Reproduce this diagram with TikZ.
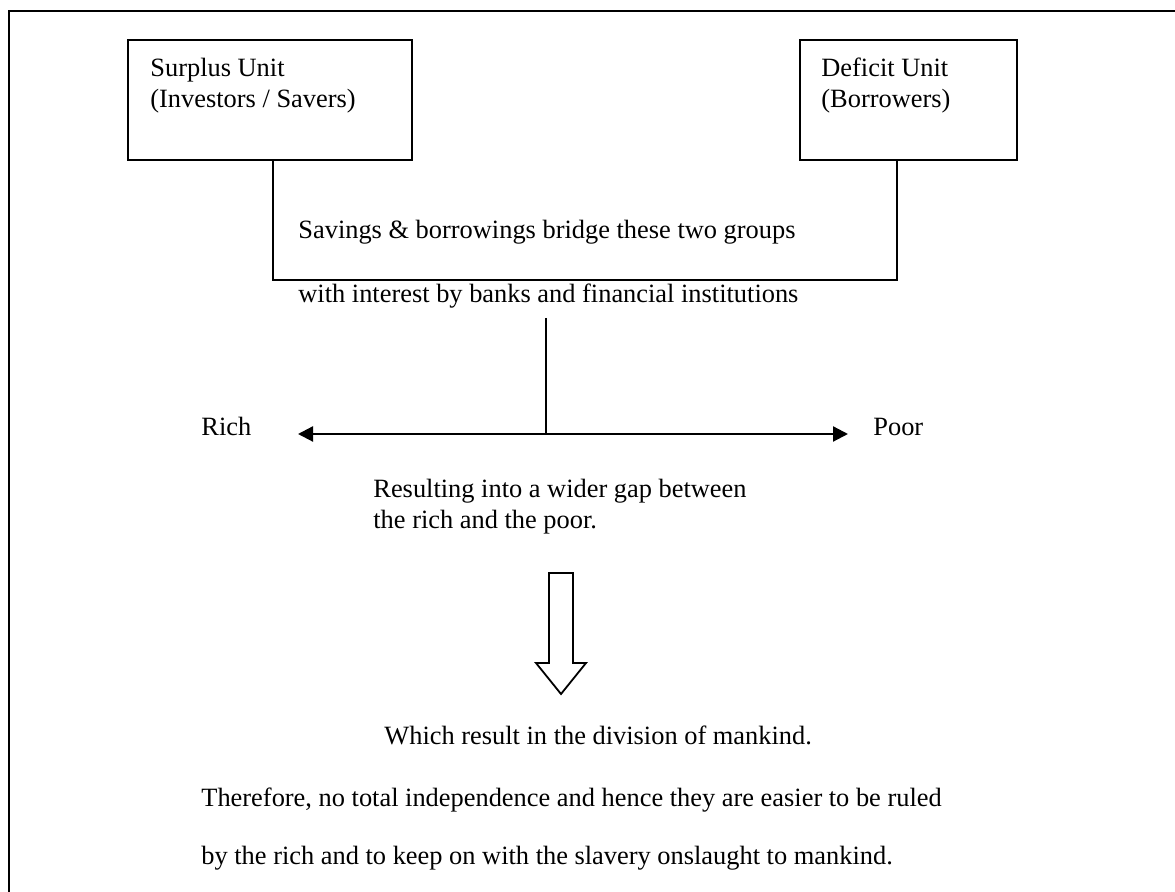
\documentclass[tikz,border=0pt]{standalone}
\usepackage{fontspec}
\setmainfont{Liberation Serif}
\usetikzlibrary{arrows.meta}
\tikzset{
  unitbox/.style={draw,line width=1pt,rectangle,inner sep=0pt},
  txt/.style={inner sep=0pt,font=\fontsize{13.2}{15.5}\selectfont},
  linetxt/.style={txt,anchor=base west},
  boxtxt/.style={txt,anchor=north west,align=left},
  bridgeline/.style={line width=1pt},
  gaparrow/.style={line width=1.1pt,{Triangle[length=7.5pt,width=7.5pt]}-{Triangle[length=7.5pt,width=7.5pt]}}
}
\begin{document}
\begin{tikzpicture}[x=0.5pt,y=-0.5pt]
\useasboundingbox (0,0) rectangle (1175,892);
% frame
\draw[line width=1.3pt] (9,892) -- (9,11) -- (1175,11);
% the two units
\node (surplus) [unitbox,minimum width=142pt,minimum height=60pt] at (270,100) {};
\node (deficit) [unitbox,minimum width=108.5pt,minimum height=60pt] at (908.5,100) {};
\node (surplustxt) [boxtxt] at (150,58) {Surplus Unit\\(Investors / Savers)};
\node (deficittxt) [boxtxt] at (821,58) {Deficit Unit\\(Borrowers)};
% bridge
\coordinate (bl) at (273,280);
\coordinate (br) at (897,280);
\draw[bridgeline] (bl |- surplus.south) -- (bl) -- (br) -- (br |- deficit.south);
\node (bridgetxt) [linetxt] at (298,239) {Savings \& borrowings bridge these two groups};
\node (interesttxt) [linetxt] at (298,303) {with interest by banks and financial institutions};
% rich / poor
\coordinate (stemtop) at (546,318);
\coordinate (stem) at (546,434);
\coordinate (lefttip) at (298,434);
\coordinate (righttip) at (848,434);
\draw[line width=0.7pt] (stemtop) -- (stem);
\draw[gaparrow] (lefttip) -- (righttip);
\node (rich) [linetxt] at (201,436) {Rich};
\node (poor) [linetxt] at (873,436) {Poor};
\node (gaptxt) [boxtxt] at (373,479) {Resulting into a wider gap between\\the rich and the poor.};
% block arrow
\draw[line width=0.9pt,line join=miter] (549,573) -- (573,573) -- (573,663) -- (586,663) -- (561,694) -- (536,663) -- (549,663) -- cycle;
\node (divisiontxt) [linetxt] at (384,745) {Which result in the division of mankind.};
\node (therefore) [linetxt] at (201,807) {Therefore, no total independence and hence they are easier to be ruled};
\node (byrich) [linetxt] at (201,865) {by the rich and to keep on with the slavery onslaught to mankind.};
\end{tikzpicture}
\end{document}
